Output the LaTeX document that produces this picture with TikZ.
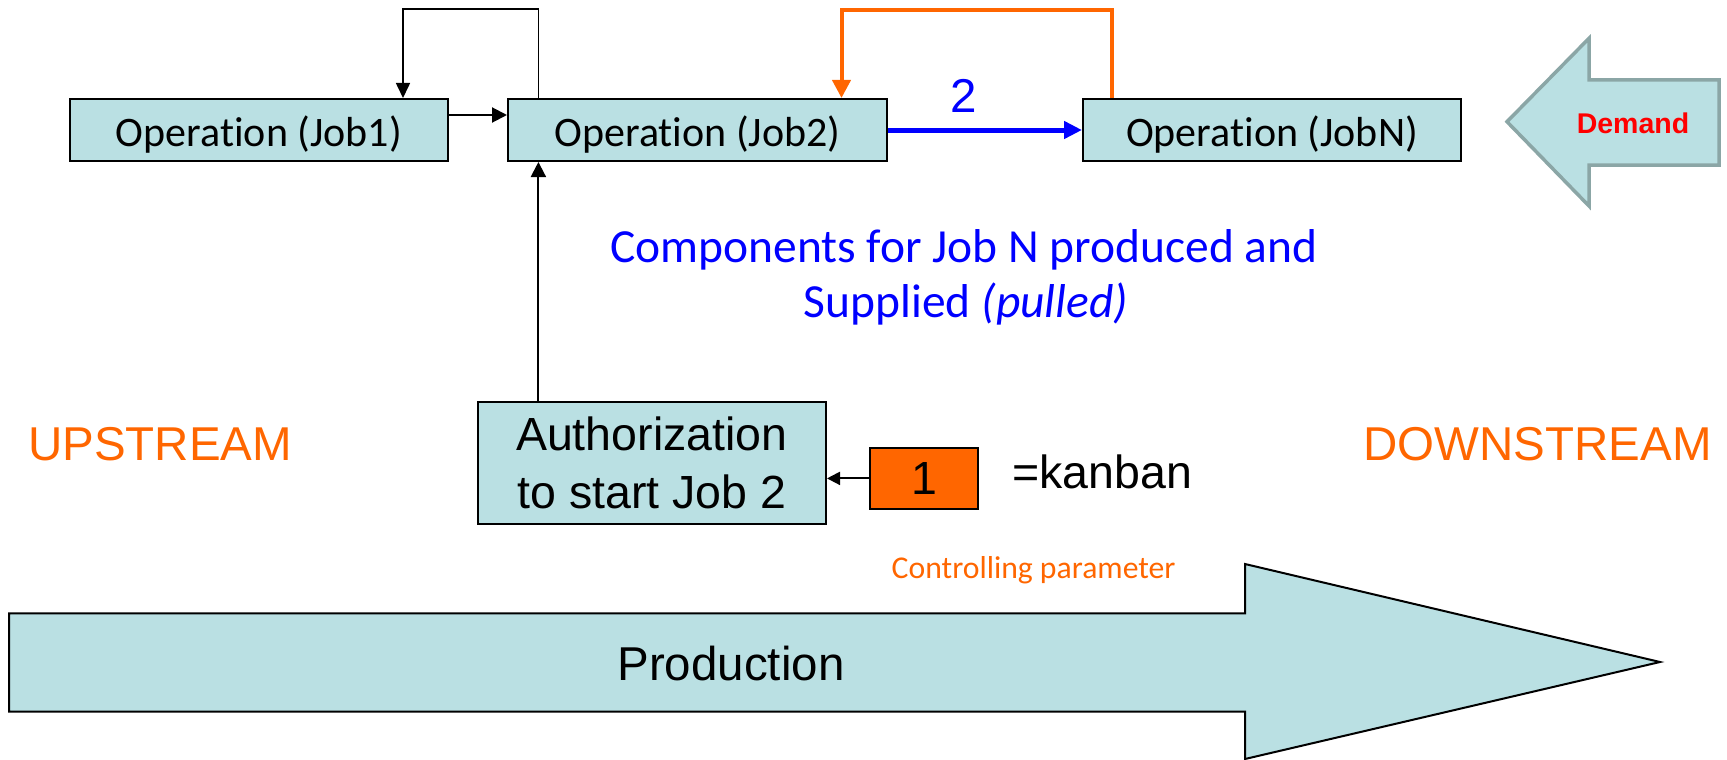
\documentclass[tikz,border=0pt]{standalone}
\usepackage{fontspec}
\setmainfont{Liberation Sans}
\newfontfamily\calib[Ligatures={NoCommon}]{Carlito}
\usetikzlibrary{arrows.meta}
\definecolor{lblue}{HTML}{BAE0E3}
\definecolor{orng}{HTML}{FF6600}
\definecolor{dborder}{HTML}{8BA6A6}
\tikzset{
  opbox/.style={draw=black, line width=2pt, fill=lblue, inner sep=0pt, minimum height=62pt,
    text height=36pt, text depth=4pt,
    font=\calib\fontsize{42}{50}\selectfont},
  blk/.style={draw=black, line width=2pt, -{Triangle[length=15pt,width=15pt]}},
  thinblk/.style={draw=black, line width=1.6pt},
  orline/.style={draw=orng, line width=4pt},
  ar/.style={font=\fontsize{47.5}{56}\selectfont}
}
\begin{document}
\begin{tikzpicture}[x=1pt,y=-1pt]
\useasboundingbox (0,0) rectangle (1727,760);
% production arrow
\draw[line width=2pt, fill=lblue, line join=miter]
  (9,613.3) -- (1245,613.3) -- (1245,564) -- (1660,662) -- (1245,759) -- (1245,711.7) -- (9,711.7) -- cycle;
\node[ar, anchor=base] (prod) at (731,680) {Production};
% demand arrow
\draw[draw=dborder, line width=3.5pt, fill=lblue, line join=miter]
  (1507,121.7) -- (1589,38.3) -- (1589,80) -- (1719,80) -- (1719,165) -- (1589,165) -- (1589,206) -- cycle;
\node[font=\bfseries\fontsize{28.5}{34}\selectfont, text=red, anchor=base] (dem) at (1633,133) {Demand};
% operation boxes
\node[opbox, minimum width=378pt] (job1) at (259,130) {Operation (Job1)};
\node[opbox, minimum width=379pt] (job2) at (697.5,130) {Operation (Job2)};
\node[opbox, minimum width=378pt] (jobN) at (1272,130) {Operation (JobN)};
% authorization & kanban
\node[draw=black, line width=2pt, fill=lblue, minimum width=348.4pt, minimum height=121.7pt, inner sep=0pt,
  align=center, font=\fontsize{46.5}{58.6}\selectfont] (auth) at (651.8,463) {Authorization\\to start Job 2};
\node[draw=black, line width=2pt, fill=orng, minimum width=107.2pt, minimum height=61.3pt, inner sep=0pt,
  font=\fontsize{46.5}{56}\selectfont] (kb) at (924,478.4) {1};
\node[font=\fontsize{46.5}{56}\selectfont, anchor=base west, inner sep=0pt] (kbl) at (1012,488) {=kanban};
\node[font=\calib\fontsize{31.7}{38}\selectfont, text=orng, anchor=base] (ctl) at (1033.6,578) {Controlling parameter};
% texts
\node[ar, text=orng, anchor=base west, inner sep=0pt] (up) at (28,460) {UPSTREAM};
\node[ar, text=orng, anchor=base east, inner sep=0pt] (down) at (1712,460) {DOWNSTREAM};
\node[font=\calib\fontsize{47.5}{52}\selectfont, text=blue, anchor=base] (c1) at (964,262) {Components for Job N produced and};
\node[font=\calib\fontsize{47.5}{52}\selectfont, text=blue, anchor=base] (c2) at (966,317) {Supplied \textit{(pulled)}};
\node[ar, text=blue, anchor=base] (two) at (964,112) {2};
% connectors
\coordinate (bl1) at (538.4,9.3);
\coordinate (bl2) at (403,9.3);
\draw[thinblk, -{Triangle[length=15pt,width=14pt]}] (bl1 |- job2.north) -- (bl1) -- (bl2) -- (bl2 |- job1.north);
\draw[blk] ([yshift=15pt]job1.east) -- ([yshift=15pt]job2.west);
\draw[blk] (bl1 |- auth.north) -- (bl1 |- job2.south);
\draw[draw=black, line width=2pt, -{Triangle[length=13pt,width=13pt]}] (kb.west) -- (auth.east |- kb.west);
\coordinate (ol1) at (1112,10);
\coordinate (ol2) at (841.5,10);
\draw[orline, -{Triangle[length=18pt,width=18pt]}] (ol1 |- jobN.north) -- (ol1) -- (ol2) -- (ol2 |- job2.north);
\draw[draw=blue, line width=5pt, -{Triangle[length=18pt,width=17pt]}] (job2.east) -- (jobN.west);
\end{tikzpicture}
\end{document}
